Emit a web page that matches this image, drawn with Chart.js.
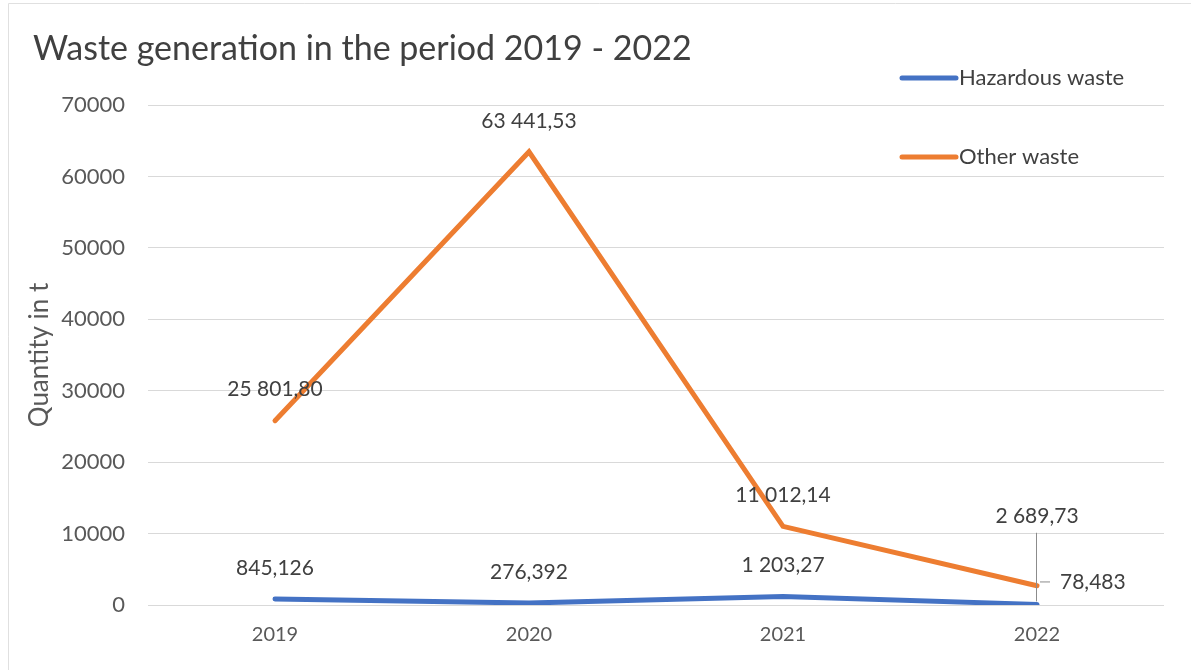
<!DOCTYPE html>
<html>
<head>
<meta charset="utf-8">
<title>Waste generation</title>
<script src="https://cdn.jsdelivr.net/npm/chart.js@4.4.1/dist/chart.umd.min.js"></script>
<style>
  html, body { margin: 0; padding: 0; background: #fff; }
  #wrap { width: 1191px; height: 670px; position: relative; }
</style>
</head>
<body>
<div id="wrap"><canvas id="wasteChart"></canvas></div>
<script>
// data
const years = ["2019", "2020", "2021", "2022"];
const hazardous = [845.126, 276.392, 1203.27, 78.483];
const otherWaste = [25801.8, 63441.53, 11012.14, 2689.73];
const hazardousLabels = ["845,126", "276,392", "1 203,27", "78,483"];
const otherLabels = ["25 801,80", "63 441,53", "11 012,14", "2 689,73"];
const yTickLabels = ["0", "10000", "20000", "30000", "40000", "50000", "60000", "70000"];

const FONT = "Lato";
const TEXT = "#404040";
const BLUE = "#4472c4";
const ORANGE = "#ed7d31";

// title, legend, data labels and the frame are drawn by hand
const decorPlugin = {
  id: "decor",
  beforeDraw(chart) {
    const ctx = chart.ctx;
    ctx.save();
    ctx.fillStyle = "#fff";
    ctx.fillRect(0, 0, chart.width, chart.height);
    ctx.strokeStyle = "#e0e0e0";
    ctx.lineWidth = 1;
    ctx.beginPath();
    ctx.moveTo(8.5, chart.height);
    ctx.lineTo(8.5, 3.5);
    ctx.lineTo(chart.width, 3.5);
    ctx.stroke();
    ctx.restore();
  },
  afterDatasetsDraw(chart) {
    const ctx = chart.ctx;
    const xs = chart.scales.x;
    const ys = chart.scales.y;
    const area = chart.chartArea;
    ctx.save();

    // title
    ctx.fillStyle = TEXT;
    ctx.font = "34px " + FONT;
    ctx.textAlign = "left";
    ctx.textBaseline = "middle";
    ctx.fillText("Waste generation in the period 2019 - 2022", 33, 49);

    // legend
    const legendItems = [
      { text: "Hazardous waste", color: BLUE, y: area.top - 27 },
      { text: "Other waste", color: ORANGE, y: area.top + 52 }
    ];
    ctx.font = "22px " + FONT;
    legendItems.forEach((item) => {
      const lx = area.right - 262;
      ctx.strokeStyle = item.color;
      ctx.lineWidth = 5;
      ctx.lineCap = "round";
      ctx.beginPath();
      ctx.moveTo(lx, item.y);
      ctx.lineTo(lx + 54, item.y);
      ctx.stroke();
      ctx.fillStyle = TEXT;
      ctx.fillText(item.text, lx + 57, item.y);
    });

    // data labels
    ctx.font = "21px " + FONT;
    ctx.textAlign = "center";
    years.forEach((yr, i) => {
      const px = xs.getPixelForValue(i);
      const pyH = ys.getPixelForValue(hazardous[i]);
      const pyO = ys.getPixelForValue(otherWaste[i]);
      if (i < years.length - 1) {
        ctx.fillText(hazardousLabels[i], px, pyH - 31);
        ctx.fillText(otherLabels[i], px, pyO - 31);
      } else {
        // last year: labels moved out with leader lines
        const topY = pyO - 70;
        ctx.fillText(otherLabels[i], px, topY);
        ctx.strokeStyle = "#8c8c8c";
        ctx.lineWidth = 1;
        ctx.lineCap = "butt";
        ctx.beginPath();
        ctx.moveTo(px - 0.5, topY + 17);
        ctx.lineTo(px - 0.5, pyH - 3);
        ctx.moveTo(px + 3, pyH - 22.5);
        ctx.lineTo(px + 13, pyH - 22.5);
        ctx.stroke();
        ctx.textAlign = "left";
        ctx.fillText(hazardousLabels[i], px + 23, pyH - 22);
        ctx.textAlign = "center";
      }
    });
    ctx.restore();
  }
};

new Chart(document.getElementById("wasteChart"), {
  type: "line",
  data: {
    labels: years,
    datasets: [
      {
        label: "Hazardous waste",
        data: hazardous,
        borderColor: BLUE,
        backgroundColor: BLUE,
        borderWidth: 5,
        borderCapStyle: "round",
        pointRadius: 0,
        tension: 0
      },
      {
        label: "Other waste",
        data: otherWaste,
        borderColor: ORANGE,
        backgroundColor: ORANGE,
        borderWidth: 5,
        borderCapStyle: "round",
        pointRadius: 0,
        tension: 0
      }
    ]
  },
  options: {
    responsive: true,
    maintainAspectRatio: false,
    animation: false,
    layout: { padding: { left: 8, right: 27, top: 105, bottom: 5 } },
    plugins: {
      legend: { display: false },
      tooltip: { enabled: false }
    },
    scales: {
      x: {
        offset: true,
        grid: { display: false, drawTicks: false },
        border: { display: false },
        ticks: { color: "#595959", padding: 18, font: { family: FONT, size: 20 } }
      },
      y: {
        min: 0,
        max: 70000,
        grid: { color: "#d9d9d9", drawTicks: false },
        border: { display: false },
        ticks: {
          stepSize: 10000,
          padding: 23,
          color: "#595959",
          font: { family: FONT, size: 22 },
          callback: (v, idx) => yTickLabels[idx]
        },
        title: {
          display: true,
          text: "Quantity in t",
          color: "#595959",
          font: { family: FONT, size: 26 },
          padding: { top: 16, bottom: 0 }
        },
        afterFit(scale) {
          scale.width = 140;
        }
      }
    }
  },
  plugins: [decorPlugin]
});
</script>
</body>
</html>
